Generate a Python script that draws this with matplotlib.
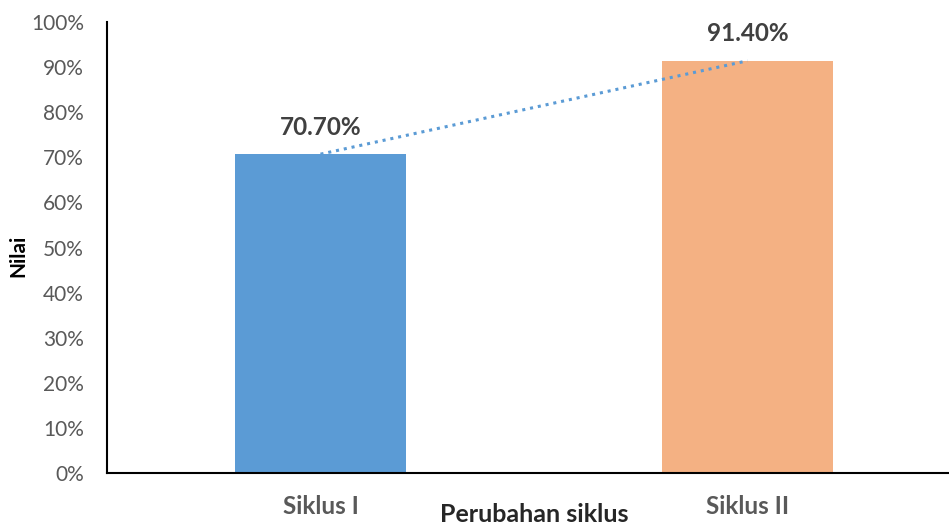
import matplotlib
matplotlib.use("Agg")
import matplotlib.pyplot as plt
from matplotlib.ticker import FuncFormatter

categories = ["Siklus I", "Siklus II"]
values = [70.70, 91.40]
yticks = list(range(0, 101, 10))
colors = ["#5B9BD5", "#F4B183"]

plt.rcParams['font.family'] = ['Lato', 'DejaVu Sans']

fig = plt.figure(figsize=(9.49, 5.28), dpi=100)
ax = fig.add_axes([107/949, 55/528, 1 - 107/949, (473-22)/528])

x = list(range(len(categories)))
ax.bar(x, values, width=0.4, color=colors, zorder=2)
ax.plot(x, values, linestyle=(0, (1, 1.6)), color="#5B9BD5", linewidth=2.2, zorder=3)

for xi, v in zip(x, values):
    ax.text(xi, v + 6.0, f"{v:.2f}%", ha="center", va="center", fontsize=17.5,
            fontweight="bold", color="#404040")

ax.set_xlim(-0.5, 1.472)
ax.set_ylim(0, 100)
ax.set_yticks(yticks)
ax.yaxis.set_major_formatter(FuncFormatter(lambda v, p: f"{int(v)}%"))
ax.set_xticks(x)
ax.set_xticklabels(categories, fontsize=17.5, fontweight="bold", color="#595959")
ax.tick_params(axis="y", length=0, pad=16.5, labelsize=15, labelcolor="#595959")
ax.tick_params(axis="x", length=0, pad=16)

for s in ["top", "right"]:
    ax.spines[s].set_visible(False)
ax.spines["left"].set_linewidth(1.5)
ax.spines["bottom"].set_linewidth(1.5)
ax.spines["left"].set_color("black")
ax.spines["bottom"].set_color("black")

fig.text(18/949, 1 - 256/528, "Nilai", rotation=90, ha="center", va="center",
         fontsize=15, fontweight="bold", color="black")
fig.text(534/949, 2/528, "Perubahan siklus", ha="center", va="bottom",
         fontsize=18, fontweight="bold", color="#262626")

fig.savefig("out.png", dpi=100)
